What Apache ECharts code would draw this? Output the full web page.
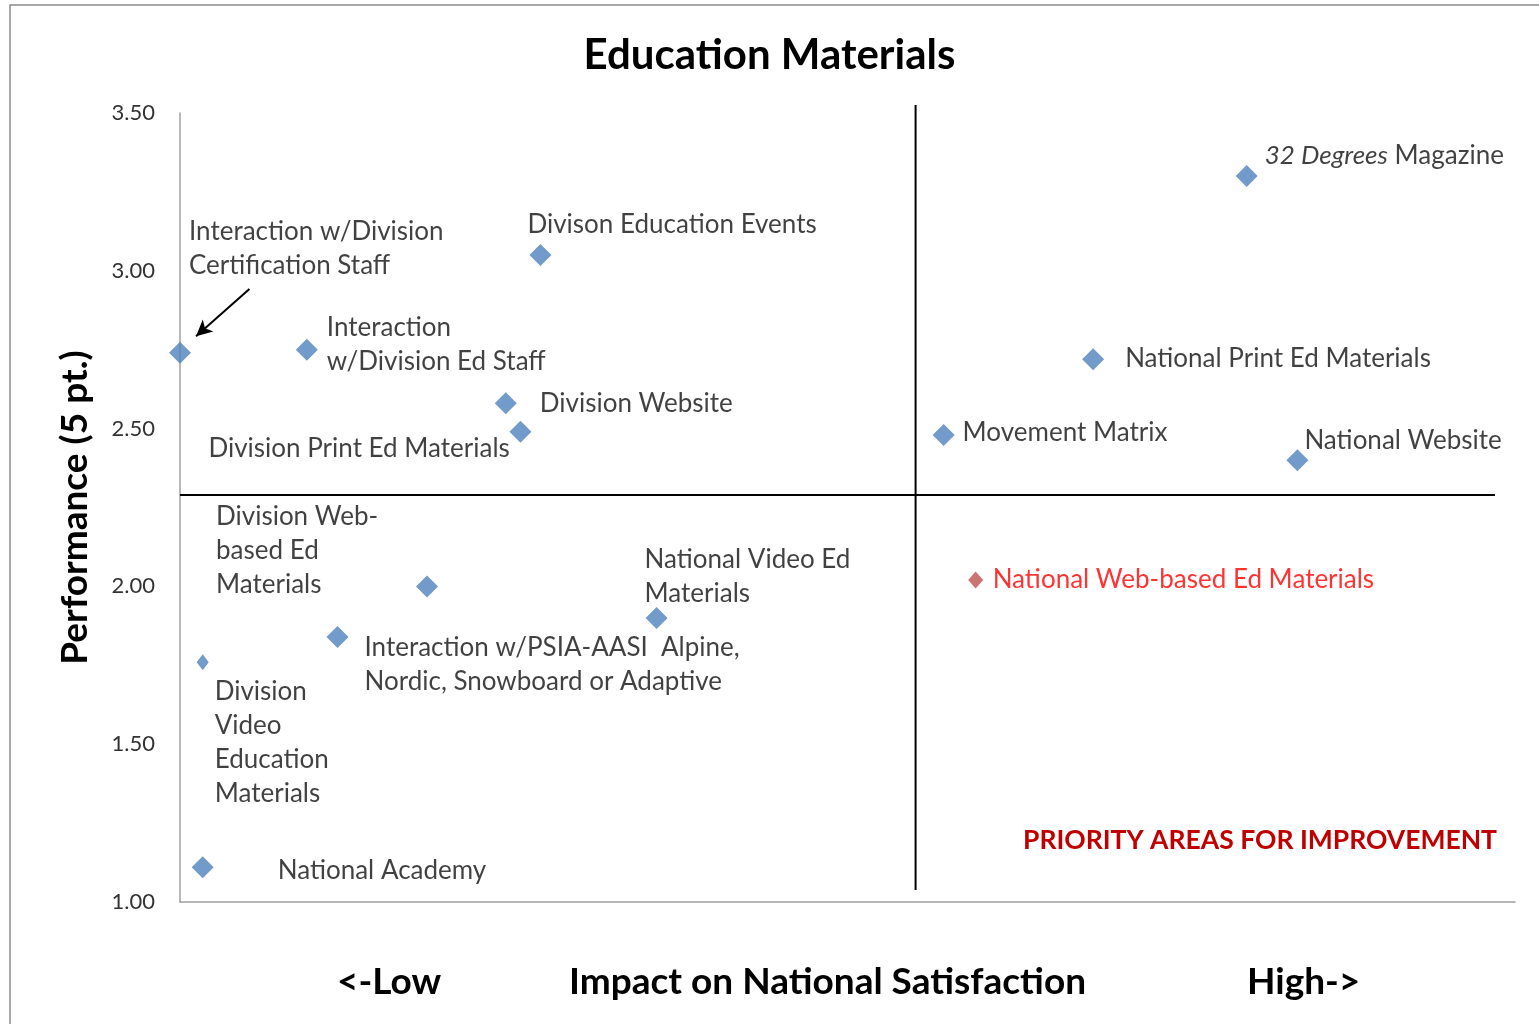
<!DOCTYPE html>
<html>
<head>
<meta charset="utf-8">
<script src="https://cdn.jsdelivr.net/npm/echarts@6/dist/echarts.min.js"></script>
<style>
  html, body { margin: 0; padding: 0; background: #fff; }
  #chart { width: 1539px; height: 1024px; }
</style>
</head>
<body>
<div id="chart"></div>
<script>
// items, impact (x, no scale shown) and performance (y)
const names = [
  'Interaction w/Division\nCertification Staff',
  'Interaction\nw/Division Ed Staff',
  'Divison Education Events',
  'Division Website',
  'Division Print Ed Materials',
  '{i|32 Degrees} Magazine',
  'National Print Ed Materials',
  'Movement Matrix',
  'National Website',
  'National Web-based Ed Materials',
  'Division Web-\nbased Ed\nMaterials',
  'National Video Ed\nMaterials',
  'Interaction w/PSIA-AASI  Alpine,\nNordic, Snowboard or Adaptive',
  'Division\nVideo\nEducation\nMaterials',
  'National Academy'
];
const impact = [0.000, 0.095, 0.270, 0.244, 0.255, 0.799, 0.684, 0.572, 0.837, 0.596, 0.185, 0.357, 0.118, 0.017, 0.017];
const performance = [2.74, 2.75, 3.05, 2.58, 2.49, 3.30, 2.72, 2.48, 2.40, 2.02, 2.00, 1.90, 1.84, 1.76, 1.11];
const yTicks = [1.00, 1.50, 2.00, 2.50, 3.00, 3.50];

// quadrant dividers and arrow
const quadX = 0.551;
const quadY = 2.29;
const vLine = [[quadX, 3.525], [quadX, 1.038]];
const hLine = [[0, quadY], [0.985, quadY]];
const arrow = [[0.052, 2.942], [0.012, 2.793]];

// label placement relative to the marker centre [dx, top]
const labelOffsets = [
  [9, -138], [20, -39], [-13, -47], [34, -17], [-312, 0],
  [18, -38], [32, -18], [19, -19], [7, -37], [17, -17],
  [-211, -87], [-12, -75], [27, -6], [12, 12], [75, -14]
];

const FONT = 'Lato';
const blue = '#4f81bd';

const chart = echarts.init(document.getElementById('chart'));

const points = names.map((n, i) => {
  const red = i === 9;
  let s = 22;
  if (i === 9) s = [15, 17];
  if (i === 13) s = [12, 16];
  const w = Array.isArray(s) ? s[0] : s;
  const h = Array.isArray(s) ? s[1] : s;
  return {
    value: [impact[i], performance[i]],
    symbolSize: s,
    itemStyle: { color: red ? '#c0504d' : blue },
    label: {
      show: true,
      formatter: n,
      position: [w / 2 + labelOffsets[i][0], h / 2 + labelOffsets[i][1]],
      align: 'left',
      verticalAlign: 'top',
      color: red ? '#ff0000' : '#111',
      fontFamily: FONT,
      fontSize: 26,
      lineHeight: 34,
      rich: { i: { fontStyle: 'italic', fontFamily: FONT, fontSize: 26, lineHeight: 34, color: '#111' } }
    }
  };
});

chart.setOption({
  animation: false,
  title: {
    text: 'Education Materials',
    left: 'center',
    top: 29,
    textStyle: { fontFamily: FONT, fontWeight: 'bold', fontSize: 42, color: '#000' }
  },
  grid: { left: 180, top: 113, right: 24, bottom: 122 },
  xAxis: {
    type: 'value', min: 0, max: 1,
    axisLine: { show: true, lineStyle: { color: '#a0a0a0', width: 1.5 } },
    axisTick: { show: false }, axisLabel: { show: false }, splitLine: { show: false }
  },
  yAxis: {
    type: 'value', min: yTicks[0], max: yTicks[yTicks.length - 1], interval: 0.5,
    name: 'Performance (5 pt.)',
    nameLocation: 'middle',
    nameRotate: 90,
    nameGap: 86,
    nameTextStyle: { fontFamily: FONT, fontWeight: 'bold', fontSize: 37, color: '#000' },
    axisLine: { show: true, lineStyle: { color: '#a0a0a0', width: 1.5 } },
    axisTick: { show: false },
    splitLine: { show: false },
    axisLabel: {
      formatter: v => v.toFixed(2),
      fontFamily: FONT, fontSize: 22, color: '#333', margin: 25
    }
  },
  graphic: [
    { type: 'rect', shape: { x: 10, y: 5, width: 1700, height: 1200 }, style: { fill: 'none', stroke: '#8c8c8c', lineWidth: 1.5 } },
    { type: 'text', left: 337, top: 964, style: { text: '<-Low', font: 'bold 37px ' + FONT, fill: '#000' } },
    { type: 'text', left: 569, top: 964, style: { text: 'Impact on National Satisfaction', font: 'bold 37px ' + FONT, fill: '#000' } },
    { type: 'text', left: 1247, top: 964, style: { text: 'High->', font: 'bold 37px ' + FONT, fill: '#000' } },
    { type: 'text', right: 42, top: 827, style: { text: 'PRIORITY AREAS FOR IMPROVEMENT', font: 'bold 26.5px ' + FONT, fill: '#c00000' } }
  ],
  series: [
    {
      type: 'line', data: vLine, symbol: 'none', clip: false, silent: true,
      lineStyle: { color: '#000', width: 2 }
    },
    {
      type: 'line', data: hLine, symbol: 'none', clip: false, silent: true,
      lineStyle: { color: '#000', width: 2 }
    },
    {
      type: 'scatter', symbol: 'diamond', data: points, clip: false,
      markLine: {
        silent: true,
        symbol: ['none', 'arrow'],
        symbolSize: [12, 16],
        label: { show: false },
        lineStyle: { color: '#000', width: 2, type: 'solid' },
        data: [[{ coord: arrow[0] }, { coord: arrow[1] }]]
      }
    }
  ]
});
</script>
</body>
</html>
